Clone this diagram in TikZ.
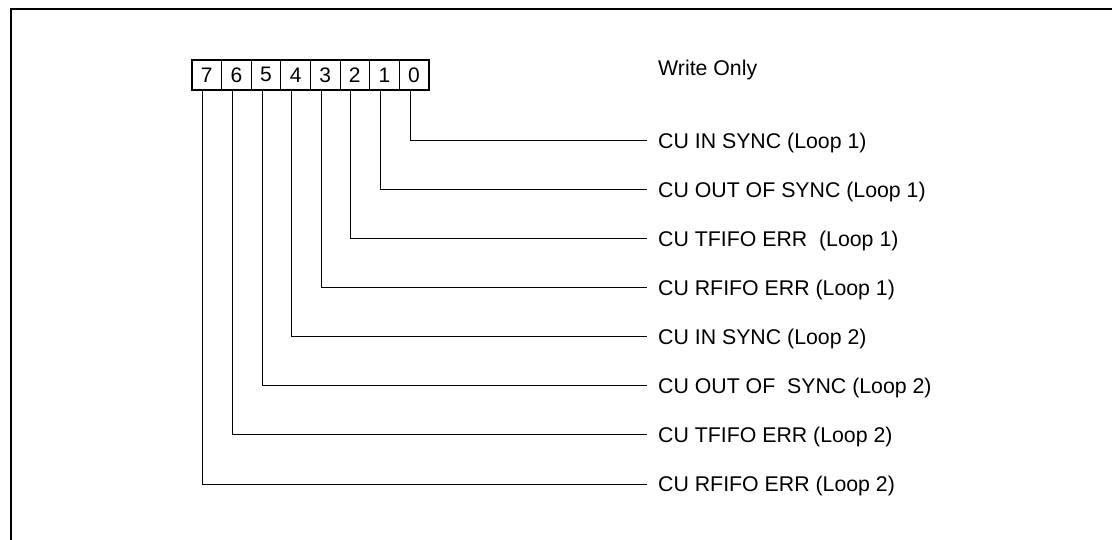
\documentclass[tikz,border=0pt]{standalone}
\usepackage{fontspec}
\setmainfont{Liberation Sans}
\usepackage{tikz}
\usetikzlibrary{positioning}

\begin{document}
\begin{tikzpicture}[x=1pt,y=-1pt,
    cell/.style={draw,line width=0.8pt,inner sep=0pt,minimum width=29.6pt,
                 minimum height=29.6pt,font=\fontsize{21}{25}\selectfont},
    lbl/.style={anchor=west,inner sep=0pt,text height=15.2pt,text depth=0pt,
                font=\fontsize{21.3}{25}\selectfont},
    wire/.style={line width=1pt,shorten >=11pt}]
    \useasboundingbox (0,0) rectangle (1112,540);
    \clip (0,0) rectangle (1112,540);
    \draw[line width=2pt] (11,560) -- (11,9) -- (1130,9);

    % register bits
    \foreach \b [count=\i from 0] in {7,6,5,4,3,2,1,0}
      \node[cell] (b\b) at (206.8+29.6*\i,74.8) {\b};
    \draw[line width=1.8pt] (b7.north west) rectangle (b0.south east);

    \node[lbl] (wo) at (658,67.5) {Write Only};

    \node[lbl] (l0) at (658,140.5) {CU IN SYNC (Loop 1)};
    \node[lbl] (l1) at (658,189.6) {CU OUT OF SYNC (Loop 1)};
    \node[lbl] (l2) at (658,238.6) {CU TFIFO ERR~ (Loop 1)};
    \node[lbl] (l3) at (658,287.7) {CU RFIFO ERR (Loop 1)};
    \node[lbl] (l4) at (658,336.8) {CU IN SYNC (Loop 2)};
    \node[lbl] (l5) at (658,385.9) {CU OUT OF~ SYNC (Loop 2)};
    \node[lbl] (l6) at (658,434.9) {CU TFIFO ERR (Loop 2)};
    \node[lbl] (l7) at (658,484) {CU RFIFO ERR (Loop 2)};

    \foreach \b in {0,...,7}
      \draw[wire] ([xshift=-4pt]b\b.south) |- (l\b.west);
  \end{tikzpicture}
\end{document}
